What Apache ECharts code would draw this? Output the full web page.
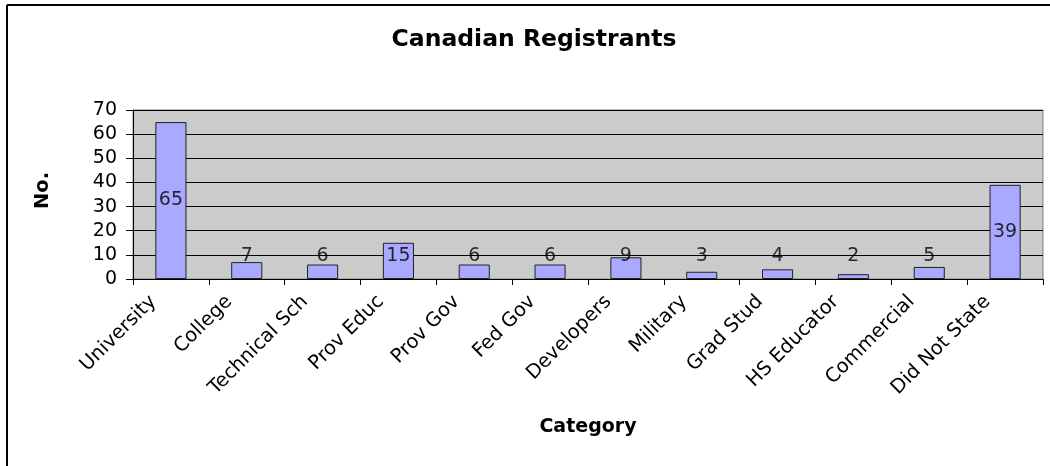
<!DOCTYPE html>
<html>
<head>
<meta charset="utf-8">
<script src="https://cdn.jsdelivr.net/npm/echarts@6/dist/echarts.min.js"></script>
<style>html,body{margin:0;padding:0;background:#fff}#c{width:1050px;height:466px}</style>
</head>
<body>
<div id="c"></div>
<script>
var categories = ['University','College','Technical Sch','Prov Educ','Prov Gov','Fed Gov','Developers','Military','Grad Stud','HS Educator','Commercial','Did Not State'];
var counts = [65, 7, 6, 15, 6, 6, 9, 3, 4, 2, 5, 39];
var yTicks = {min: 0, max: 70, interval: 10};
var titleText = 'Canadian Registrants';
var yName = 'No.';
var xName = 'Category';

var FONT = 'DejaVu Sans';
// label anchor: bar middle, but not lower than a minimum value level
var labelFloor = 9.5;
var labelPoints = counts.map(function (v, i) { return [i, Math.max(v / 2, labelFloor), v]; });

var chart = echarts.init(document.getElementById('c'), null, {renderer: 'canvas'});
chart.setOption({
  animation: false,
  backgroundColor: '#ffffff',
  title: {
    text: titleText, left: 529, top: 23, textAlign: 'center',
    textStyle: {fontFamily: FONT, fontWeight: 'bold', fontSize: 23.5, color: '#000'}
  },
  grid: {left: 133, right: 7, top: 110, bottom: 187, show: true, backgroundColor: '#cbcbcb', borderColor: '#808080', borderWidth: 1, containLabel: false},
  xAxis: {
    type: 'category', data: categories, boundaryGap: true,
    name: xName, nameLocation: 'middle', nameGap: 139,
    nameTextStyle: {fontFamily: FONT, fontWeight: 'bold', fontSize: 19, color: '#000'},
    axisLine: {show: true, lineStyle: {color: '#000', width: 1}},
    axisTick: {show: true, alignWithLabel: false, length: 6, lineStyle: {color: '#000'}},
    axisLabel: {rotate: 45, interval: 0, margin: 2, padding: [0, 25, 0, 0], fontFamily: FONT, fontSize: 19.5, color: '#000'},
    splitLine: {show: false}
  },
  yAxis: {
    type: 'value', min: yTicks.min, max: yTicks.max, interval: yTicks.interval,
    name: yName, nameLocation: 'middle', nameGap: 80, nameRotate: 90,
    nameTextStyle: {fontFamily: FONT, fontWeight: 'bold', fontSize: 19.5, color: '#000', padding: [0, 0, 0, 8]},
    axisLine: {show: true, lineStyle: {color: '#000', width: 1}},
    axisTick: {show: true, length: 7, lineStyle: {color: '#000'}},
    axisLabel: {margin: 16, fontFamily: FONT, fontSize: 19, color: '#000'},
    splitLine: {show: true, lineStyle: {color: '#000', width: 1}}
  },
  series: [
    {
      type: 'bar', data: counts, barWidth: '41%',
      itemStyle: {color: '#a9a9ff', borderColor: '#222', borderWidth: 1},
      z: 2
    },
    {
      type: 'scatter', data: labelPoints, symbolSize: 0, z: 5,
      label: {show: true, position: 'inside', formatter: function (p) { return p.value[2]; }, fontFamily: FONT, fontSize: 19, color: '#000'}
    }
  ],
  graphic: [
    {type: 'line', shape: {x1: 7, y1: 5, x2: 7, y2: 466}, style: {stroke: '#000', lineWidth: 2}},
    {type: 'line', shape: {x1: 7, y1: 5, x2: 1050, y2: 5}, style: {stroke: '#000', lineWidth: 2}}
  ]
});
</script>
</body>
</html>
